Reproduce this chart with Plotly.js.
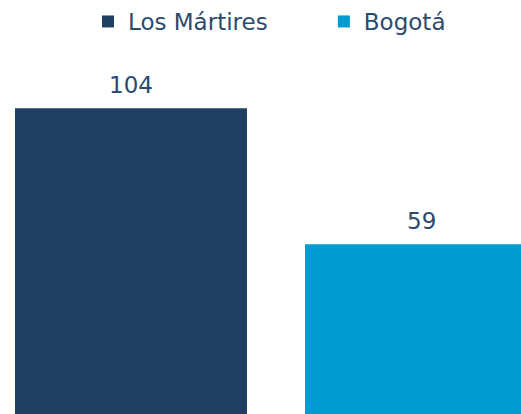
<!DOCTYPE html>
<html><head><meta charset="utf-8">
<script src="https://cdn.plot.ly/plotly-3.0.1.min.js"></script>
<style>html,body{margin:0;padding:0;background:#fff}#chart{width:521px;height:414px}</style>
</head><body><div id="chart"></div>
<script>
const categories = ["Los Mártires", "Bogotá"];
const values = [104, 59];
const colors = ["#1F4063", "#009BD0"];
const textColor = "#2B4A6E";
const font = "DejaVu Sans, sans-serif";
// legend spacing padding (non-breaking spaces) after the first entry
const legendPad = ["\u00A0\u00A0\u00A0\u00A0\u00A0\u00A0\u00A0", ""];

const traces = categories.map((c, i) => ({
  type: "bar",
  name: c + legendPad[i],
  x: [c],
  y: [values[i]],
  width: 0.8,
  marker: {color: colors[i]},
  hoverinfo: "skip"
}));

const annotations = categories.map((c, i) => ({
  x: c, y: values[i], xref: "x", yref: "y",
  text: String(values[i]),
  showarrow: false, yanchor: "bottom", xanchor: "center",
  yshift: 8,
  font: {size: 23, color: textColor, family: font}
}));

const layout = {
  width: 521, height: 414,
  margin: {l: 0, r: 0, t: 0, b: 0},
  paper_bgcolor: "#fff", plot_bgcolor: "#fff",
  barmode: "overlay",
  showlegend: true,
  legend: {orientation: "h", x: 88 / 521, xanchor: "left", y: 1, yanchor: "top",
           font: {size: 23, color: textColor, family: font}, itemclick: false},
  xaxis: {type: "category", range: [-0.4517, 1.3448], visible: false, fixedrange: true},
  yaxis: {range: [2.85, 139.84], visible: false, fixedrange: true},
  annotations: annotations,
  font: {family: font}
};
Plotly.newPlot("chart", traces, layout, {displayModeBar: false, staticPlot: true});
</script></body></html>
